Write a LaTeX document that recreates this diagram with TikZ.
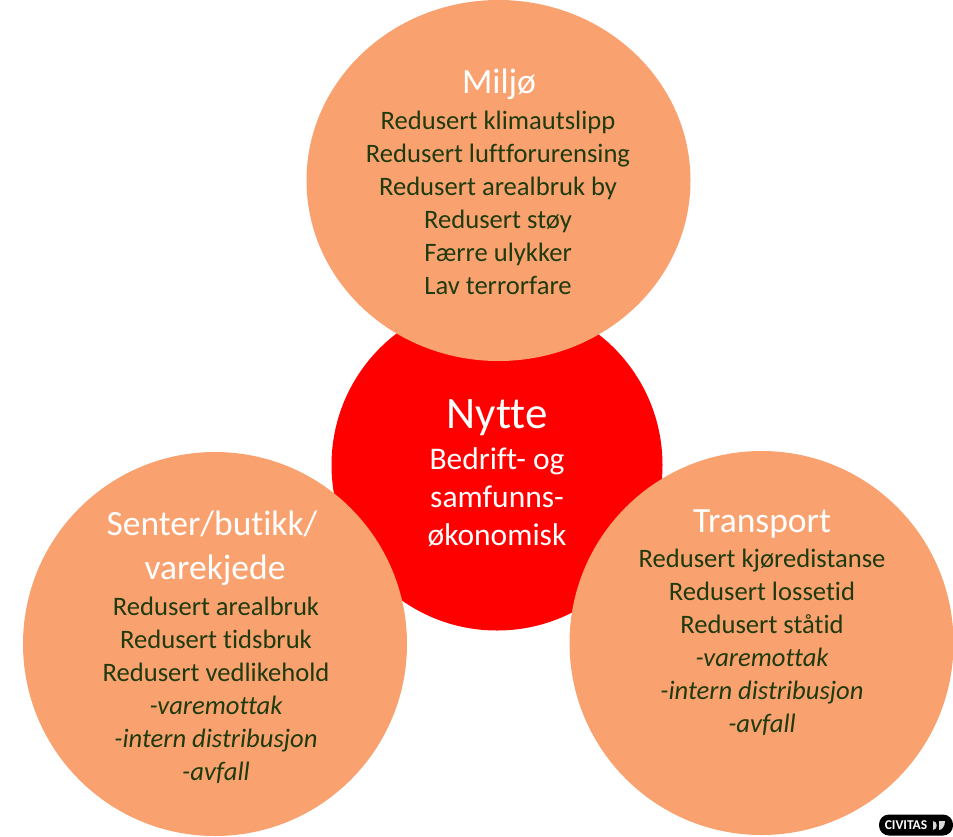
\documentclass[tikz,border=0pt]{standalone}
\usepackage{fontspec}
\usetikzlibrary{shapes.geometric}
\setmainfont{Carlito}[Ligatures=NoCommon]
\definecolor{peach}{HTML}{F9A270}
\definecolor{txtg}{HTML}{1F3A0C}
\tikzset{
 x=1pt,y=-1pt,
 circ/.style={circle,fill=peach,minimum size=#1,inner sep=0pt},
 ttl/.style={anchor=base,text=white,font=\fontsize{35.5}{35.5}\selectfont},
 ln/.style={anchor=base,text=txtg,font=\fontsize{26.6}{26.6}\selectfont},
 lni/.style={ln,font=\fontsize{26.6}{26.6}\selectfont\itshape},
 whl/.style={anchor=base,text=white,font=\fontsize{31.5}{31.5}\selectfont},
}
\begin{document}
\begin{tikzpicture}
\useasboundingbox (0,0) rectangle (953,836);
\node[circle,fill=red,minimum size=331pt,inner sep=0pt] (c) at (497,465) {};
\node[ellipse,fill=peach,minimum width=384pt,minimum height=361pt,inner sep=0pt] (top) at (498.5,180.5) {};
\node[circ=384pt] (left) at (215,644) {};
\node[circ=384pt] (right) at (761.5,643) {};
\node[ttl] (t1) at (499,93) {Miljø};
\node[ln] (a1) at (498,129) {Redusert klimautslipp};
\node[ln] (a2) at (498,162) {Redusert luftforurensing};
\node[ln] (a3) at (498,195) {Redusert arealbruk by};
\node[ln] (a4) at (498,228) {Redusert støy};
\node[ln] (a5) at (498,261) {Færre ulykker};
\node[ln] (a6) at (498,294) {Lav terrorfare};
\node[anchor=base,text=white,font=\fontsize{45}{45}\selectfont] (t2) at (497,428) {Nytte};
\node[whl] (b1) at (497,469) {Bedrift- og};
\node[whl] (b2) at (497,507) {samfunns-};
\node[whl] (b3) at (497,545) {økonomisk};
\node[ttl] (t3) at (212,535) {Senter/butikk/};
\node[ttl] (t3b) at (215,579) {varekjede};
\node[ln] (l1) at (216,615) {Redusert arealbruk};
\node[ln] (l2) at (216,648) {Redusert tidsbruk};
\node[ln] (l3) at (216,681) {Redusert vedlikehold};
\node[lni] (l4) at (216,714) {-varemottak};
\node[lni] (l5) at (216,747) {-intern distribusjon};
\node[lni] (l6) at (216,780) {-avfall};
\node[ttl] (t4) at (762,532) {Transport};
\node[ln] (r1) at (762,567.5) {Redusert kjøredistanse};
\node[ln] (r2) at (762,600.5) {Redusert lossetid};
\node[ln] (r3) at (762,633.5) {Redusert ståtid};
\node[lni] (r4) at (762,666.5) {-varemottak};
\node[lni] (r5) at (762,699.5) {-intern distribusjon};
\node[lni] (r6) at (762,732.5) {-avfall};
\node[fill=black,rounded corners=10pt,minimum width=74pt,minimum height=21pt,inner sep=0pt] (bd) at (916,825) {};
\node[anchor=center,text=white,font=\fontsize{13.5}{13.5}\selectfont\bfseries] (bt) at (906,825.5) {CIVITAS};
\fill[white!85!black] (933,821) .. controls (938,821) and (938,830) .. (933,830) -- cycle;
\fill[white!85!black] (939,821) -- (945,821) .. controls (945,826) and (942,830) .. (939,830) -- cycle;
\end{tikzpicture}
\end{document}
